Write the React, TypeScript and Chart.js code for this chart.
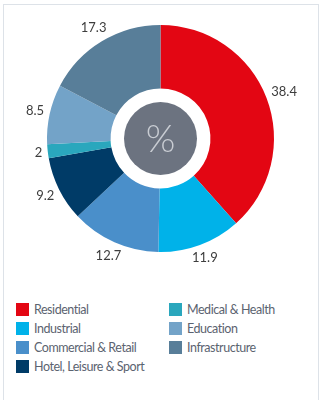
import React, { useEffect, useRef } from "react";
import { Chart, registerables } from "chart.js";

Chart.register(...registerables);

const categories = [
  "Residential",
  "Industrial",
  "Commercial & Retail",
  "Hotel, Leisure & Sport",
  "Medical & Health",
  "Education",
  "Infrastructure",
];
const values = [38.4, 11.9, 12.7, 9.2, 2, 8.5, 17.3];
const valueLabels = ["38.4", "11.9", "12.7", "9.2", "2", "8.5", "17.3"];
const colors = ["#e30613", "#00b2e9", "#4a8fca", "#003b67", "#2aa7bd", "#73a3c8", "#587e99"];
const centerText = "%";

const FONT = "Lato, 'Open Sans', sans-serif";

const labelPlugin = {
  id: "outerLabels",
  afterDatasetsDraw(chart: any) {
    const ctx = chart.ctx;
    const meta = chart.getDatasetMeta(0);
    ctx.save();
    ctx.font = `13px ${FONT}`;
    ctx.fillStyle = "#3d3d3d";
    ctx.textAlign = "center";
    ctx.textBaseline = "middle";
    meta.data.forEach((arc: any, i: number) => {
      const { x, y, startAngle, endAngle, outerRadius } = arc.getProps(
        ["x", "y", "startAngle", "endAngle", "outerRadius"],
        true
      );
      const mid = (startAngle + endAngle) / 2;
      const w = ctx.measureText(valueLabels[i]).width;
      const r =
        outerRadius + 5 + (w / 2) * Math.abs(Math.cos(mid)) + 5 * Math.abs(Math.sin(mid));
      ctx.fillText(valueLabels[i], x + Math.cos(mid) * r, y + Math.sin(mid) * r);
    });
    // center disc
    const a0 = meta.data[0];
    const cx = a0.x;
    const cy = a0.y;
    ctx.beginPath();
    ctx.arc(cx, cy, 36.5, 0, Math.PI * 2);
    ctx.fillStyle = "#6c7380";
    ctx.fill();
    ctx.font = `300 38px ${FONT}`;
    ctx.fillStyle = "#c9cdd3";
    ctx.fillText(centerText, cx, cy + 1);
    ctx.restore();
  },
};

export default function App() {
  const ref = useRef<HTMLCanvasElement>(null);
  useEffect(() => {
    if (!ref.current) return;
    const chart = new Chart(ref.current, {
      type: "doughnut",
      data: {
        labels: categories,
        datasets: [
          {
            data: values,
            backgroundColor: colors,
            borderWidth: 0,
          },
        ],
      },
      options: {
        animation: false,
        responsive: false,
        cutout: "44%",
        layout: { padding: { left: 47, right: 50, top: 25, bottom: 28 } },
        plugins: {
          legend: { display: false },
          tooltip: { enabled: false },
        },
      },
      plugins: [labelPlugin],
    });
    return () => chart.destroy();
  }, []);

  const col1 = [0, 1, 2, 3];
  const col2 = [4, 5, 6];
  const item = (i: number, left: number, row: number) => (
    <div
      key={i}
      style={{
        position: "absolute",
        left,
        top: 301 + row * 19,
        height: 17,
        display: "flex",
        alignItems: "center",
        whiteSpace: "nowrap",
      }}
    >
      <span
        style={{
          display: "inline-block",
          width: 13,
          height: 13,
          background: colors[i],
          marginRight: 5,
        }}
      />
      <span style={{ font: `12.5px ${FONT}`, color: "#5b6370", letterSpacing: "-0.45px" }}>
        {categories[i]}
      </span>
    </div>
  );

  return (
    <div
      style={{
        position: "absolute",
        left: 0,
        top: 0,
        width: 324,
        height: 400,
        background: "#fff",
        overflow: "hidden",
      }}
    >
      <div
        style={{
          position: "absolute",
          left: 3,
          top: 4,
          width: 314,
          height: 420,
          border: "1px solid #dde2e8",
        }}
      />
      <canvas
        ref={ref}
        width={324}
        height={280}
        style={{ position: "absolute", left: 0, top: 0, width: 324, height: 280 }}
      />
      {col1.map((i, r) => item(i, 16, r))}
      {col2.map((i, r) => item(i, 169, r))}
    </div>
  );
}
